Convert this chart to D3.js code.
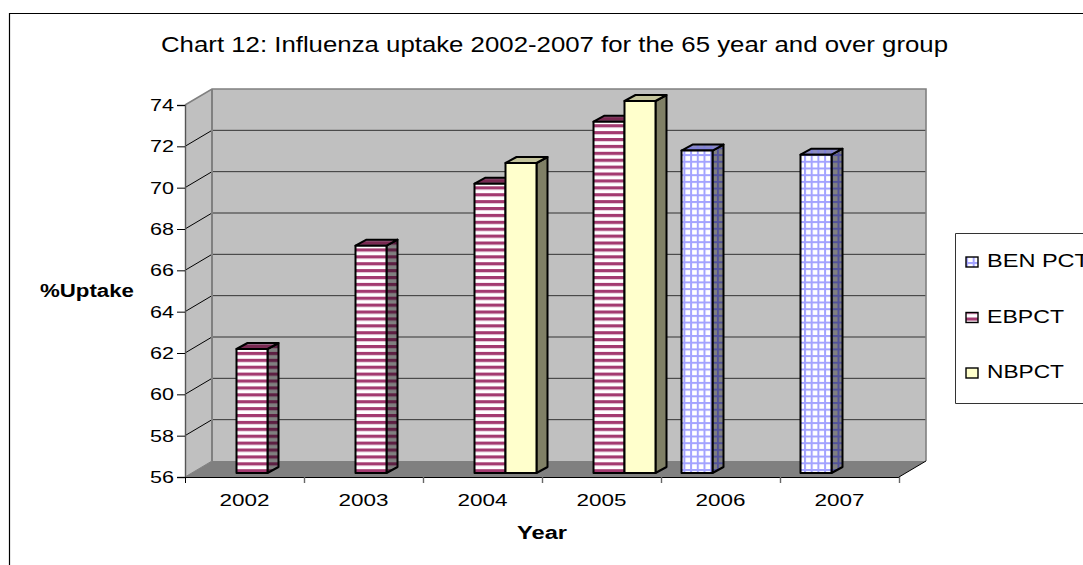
<!DOCTYPE html>
<html>
<head>
<meta charset="utf-8">
<script src="https://cdn.jsdelivr.net/npm/d3@7"></script>
<style>
  html, body { margin: 0; padding: 0; background: #fff; overflow: hidden; }
  text { font-family: "Liberation Sans", Arial, sans-serif; fill: #000; }
</style>
</head>
<body>
<div id="chart"></div>
<script>
const years = ['2002', '2003', '2004', '2005', '2006', '2007']
const seriesKeys = ['BEN PCT', 'EBPCT', 'NBPCT']
const benValues = [null, null, null, null, 71.6, 71.4]
const ebValues = [62, 67, 70, 73, null, null]
const nbValues = [null, null, 71, 74, null, null]
const yTicks = [56, 58, 60, 62, 64, 66, 68, 70, 72, 74]

const width = 1083
const height = 565

// front edge of the floor, and how far the back wall sits from it
const plot = { LEFT: 185, RIGHT: 899, TOP: 105, BOTTOM: 477 }
const depth = { x: 27, y: -16 }
// bars stand a little way in from the front edge
const barShift = { x: 4, y: -4 }
const barDepth = { x: 11, y: -6 }

const svg = d3.select('#chart').append('svg')
  .attr('width', width)
  .attr('height', height)
  .attr('viewBox', `0 0 ${width} ${height}`)

const x0 = d3.scaleBand().domain(years).range([plot.LEFT, plot.RIGHT])
const x1 = d3.scaleBand().domain(seriesKeys).range([16.5, 109.5])
const y = d3.scaleLinear().domain([56, 74]).range([plot.BOTTOM, plot.TOP])

const pt = (...pts) => pts.map(p => p.join(',')).join(' ')

// the reference text is wider than the font, so squeeze it to the measured width
const stretch = (sel, w) => sel.attr('textLength', w).attr('lengthAdjust', 'spacingAndGlyphs')

// patterns
const defs = svg.append('defs')

const stripes = (id, bg, fg) => {
  const p = defs.append('pattern').attr('id', id)
    .attr('patternUnits', 'userSpaceOnUse').attr('width', 8).attr('height', 6.9)
  p.append('rect').attr('width', 8).attr('height', 6.9).attr('fill', bg)
  p.append('rect').attr('y', 0).attr('width', 8).attr('height', 3.2).attr('fill', fg)
}
const grid = (id, bg, fg) => {
  const p = defs.append('pattern').attr('id', id)
    .attr('patternUnits', 'userSpaceOnUse').attr('width', 6.7).attr('height', 6.7)
  p.append('rect').attr('width', 6.7).attr('height', 6.7).attr('fill', bg)
  p.append('rect').attr('width', 2).attr('height', 6.7).attr('fill', fg)
  p.append('rect').attr('width', 6.7).attr('height', 2).attr('fill', fg)
}
stripes('eb-front', '#ffffff', '#a33a70')
stripes('eb-side', '#808080', '#5c1f42')
stripes('eb-top', '#8f5f7c', '#7a2952')
grid('ben-front', '#ffffff', '#a3a3ff')
grid('ben-side', '#808080', '#52529a')
grid('ben-top', '#8c8cc0', '#8080d8')

const styles = {
  'BEN PCT': { front: 'url(#ben-front)', side: 'url(#ben-side)', top: 'url(#ben-top)' },
  'EBPCT': { front: 'url(#eb-front)', side: 'url(#eb-side)', top: 'url(#eb-top)' },
  'NBPCT': { front: '#ffffcc', side: '#808066', top: '#c4c49c' },
}

// outer frame runs off the right and bottom of the page
svg.append('path')
  .attr('d', d3.line()([[width + 2, 13.5], [9.5, 13.5], [9.5, height + 2]]))
  .attr('fill', 'none').attr('stroke', '#000').attr('stroke-width', 1.2)

// walls and floor
const backLeft = plot.LEFT + depth.x
const backRight = plot.RIGHT + depth.x
const backY = v => y(v) + depth.y
const walls = svg.append('g')

walls.append('polygon')
  .attr('points', pt([plot.LEFT, y(56)], [backLeft, backY(56)], [backLeft, backY(74)], [plot.LEFT, y(74)]))
  .attr('fill', '#c0c0c0')
walls.append('rect')
  .attr('x', backLeft).attr('y', backY(74))
  .attr('width', backRight - backLeft).attr('height', backY(56) - backY(74))
  .attr('fill', '#c0c0c0')
walls.append('polygon')
  .attr('points', pt([plot.LEFT, y(56)], [plot.RIGHT, y(56)], [backRight, backY(56)], [backLeft, backY(56)]))
  .attr('fill', '#808080')

// gridlines, back wall then the slanted bit on the side wall
walls.append('g').selectAll('line')
  .data(yTicks.filter(d => d > 56 && d < 74))
  .join('line')
  .attr('x1', backLeft).attr('x2', backRight)
  .attr('y1', d => backY(d)).attr('y2', d => backY(d))
  .attr('stroke', '#333').attr('stroke-width', 1)
walls.append('g').selectAll('line')
  .data(yTicks.filter(d => d > 56 && d < 74))
  .join('line')
  .attr('x1', plot.LEFT).attr('x2', backLeft)
  .attr('y1', d => y(d)).attr('y2', d => backY(d))
  .attr('stroke', '#000').attr('stroke-width', 1)

// wall edges
walls.append('path')
  .attr('d', d3.line()([
    [plot.LEFT, y(74)], [backLeft, backY(74)], [backRight, backY(74)], [backRight, backY(56)],
  ]))
  .attr('fill', 'none').attr('stroke', '#808080').attr('stroke-width', 1.6)
walls.append('line')
  .attr('x1', backLeft).attr('x2', backLeft)
  .attr('y1', backY(74)).attr('y2', backY(56))
  .attr('stroke', '#808080').attr('stroke-width', 2)
walls.append('line')
  .attr('x1', plot.LEFT).attr('x2', backLeft)
  .attr('y1', y(56)).attr('y2', backY(56))
  .attr('stroke', '#808080').attr('stroke-width', 1)
walls.append('line')
  .attr('x1', plot.RIGHT).attr('x2', backRight)
  .attr('y1', y(56)).attr('y2', backY(56))
  .attr('stroke', '#000').attr('stroke-width', 1)

// bars
const barData = []
years.forEach((year, i) => {
  const vals = { 'BEN PCT': benValues[i], EBPCT: ebValues[i], NBPCT: nbValues[i] }
  seriesKeys.forEach(key => {
    if (vals[key] !== null) barData.push({ year, key, value: vals[key] })
  })
})

const bars = svg.append('g').selectAll('g')
  .data(barData)
  .join('g')
  .attr('stroke', '#000')
  .attr('stroke-width', 2)
  .attr('stroke-linejoin', 'round')

const bx = d => x0(d.year) + x1(d.key) + barShift.x
const by = d => y(d.value) + barShift.y
const bottom = y(56) + barShift.y

bars.append('polygon')
  .attr('points', d => {
    const l = bx(d), r = l + x1.bandwidth(), t = by(d)
    return pt([r, t], [r + barDepth.x, t + barDepth.y], [r + barDepth.x, bottom + barDepth.y], [r, bottom])
  })
  .attr('fill', d => styles[d.key].side)
bars.append('polygon')
  .attr('points', d => {
    const l = bx(d), r = l + x1.bandwidth(), t = by(d)
    return pt([l, t], [l + barDepth.x, t + barDepth.y], [r + barDepth.x, t + barDepth.y], [r, t])
  })
  .attr('fill', d => styles[d.key].top)
bars.append('rect')
  .attr('x', bx)
  .attr('y', by)
  .attr('width', x1.bandwidth())
  .attr('height', d => bottom - by(d))
  .attr('fill', d => styles[d.key].front)

// axes
const yAxis = svg.append('g')
  .attr('transform', `translate(${plot.LEFT}, 0)`)
  .call(d3.axisLeft(y).tickValues(yTicks).tickSize(8).tickPadding(3))
yAxis.select('.domain').attr('stroke', '#555').attr('stroke-width', 1.4)
yAxis.selectAll('text').style('font-size', '17px').call(stretch, 24)

const xEdges = d3.scaleLinear().domain([0, years.length]).range([plot.LEFT, plot.RIGHT])
const edgeAxis = svg.append('g')
  .attr('transform', `translate(0, ${plot.BOTTOM})`)
  .call(d3.axisBottom(xEdges).tickValues(d3.range(years.length + 1)).tickSize(6).tickFormat(''))
edgeAxis.selectAll('.tick line')
  .filter(d => d > 0)
  .attr('stroke', '#666').attr('stroke-width', 1.4)

const xAxis = svg.append('g')
  .attr('transform', `translate(0, ${plot.BOTTOM})`)
  .call(d3.axisBottom(x0).tickSize(0).tickPadding(17))
xAxis.select('.domain').remove()
xAxis.selectAll('text').style('font-size', '17px').call(stretch, 50)

// titles
svg.append('text')
  .attr('x', 554.5).attr('y', 52)
  .attr('text-anchor', 'middle')
  .style('font-size', '22px')
  .call(stretch, 787)
  .text('Chart 12: Influenza uptake 2002-2007 for the 65 year and over group')
svg.append('text')
  .attr('x', 87).attr('y', 297)
  .attr('text-anchor', 'middle')
  .style('font-size', '17.5px').style('font-weight', 'bold')
  .call(stretch, 94)
  .text('%Uptake')
svg.append('text')
  .attr('x', 542).attr('y', 539)
  .attr('text-anchor', 'middle')
  .style('font-size', '18px').style('font-weight', 'bold')
  .call(stretch, 50)
  .text('Year')

// legend
svg.append('path')
  .attr('d', d3.line()([[width + 2, 233.5], [955.5, 233.5], [955.5, 403.5], [width + 2, 403.5]]))
  .attr('fill', 'none').attr('stroke', '#333').attr('stroke-width', 1)

const legendY = d3.scalePoint().domain(seriesKeys).range([262, 373])
const legend = svg.append('g').selectAll('g')
  .data(seriesKeys)
  .join('g')
  .attr('transform', d => `translate(966, ${legendY(d)})`)
legend.append('rect')
  .attr('y', -5).attr('width', 12).attr('height', 10)
  .attr('fill', d => styles[d].front)
  .attr('stroke', '#000').attr('stroke-width', 1.4)
legend.append('text')
  .attr('x', 21).attr('y', 5)
  .style('font-size', '19px')
  .attr('textLength', d => (d === 'BEN PCT' ? 102 : 77))
  .attr('lengthAdjust', 'spacingAndGlyphs')
  .text(d => d)
</script>
</body>
</html>
